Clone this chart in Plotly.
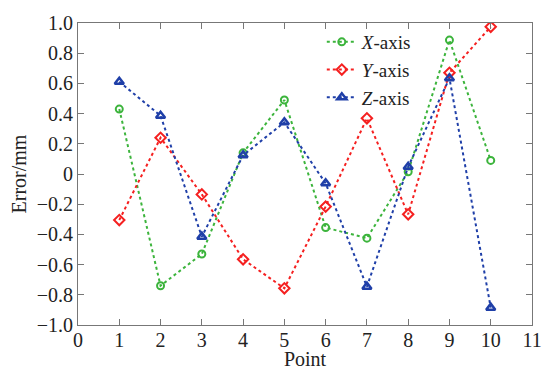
import plotly.graph_objects as go

points = [1, 2, 3, 4, 5, 6, 7, 8, 9, 10]
x_err = [0.43, -0.74, -0.53, 0.14, 0.49, -0.355, -0.425, 0.015, 0.887, 0.09]
y_err = [-0.305, 0.24, -0.135, -0.565, -0.757, -0.216, 0.369, -0.267, 0.67, 0.975]
z_err = [0.611, 0.386, -0.415, 0.124, 0.342, -0.062, -0.746, 0.048, 0.634, -0.885]

y_tickvals = [1.0, 0.8, 0.6, 0.4, 0.2, 0, -0.2, -0.4, -0.6, -0.8, -1.0]
y_ticktext = ["1.0", "0.8", "0.6", "0.4", "0.2", "0", "\u22120.2", "\u22120.4", "\u22120.6", "\u22120.8", "\u22121.0"]
x_tickvals = list(range(0, 12))

FONT = "Liberation Serif"

fig = go.Figure()
fig.add_trace(go.Scatter(x=points, y=x_err, mode="lines+markers", name="<i>X</i>-axis",
                         line=dict(color="#3cb43c", dash="dot", width=2),
                         marker=dict(symbol="circle-open", size=7, color="#3cb43c", line=dict(width=2))))
fig.add_trace(go.Scatter(x=points, y=y_err, mode="lines+markers", name="<i>Y</i>-axis",
                         line=dict(color="#f52020", dash="dot", width=2),
                         marker=dict(symbol="diamond-open", size=8, color="#f52020", line=dict(width=2))))
fig.add_trace(go.Scatter(x=points, y=z_err, mode="lines+markers", name="<i>Z</i>-axis",
                         line=dict(color="#1f3fa8", dash="dot", width=2),
                         marker=dict(symbol="triangle-up-open", size=8, color="#1f3fa8", line=dict(width=2.5))))

fig.update_layout(
    width=542, height=370,
    margin=dict(l=78, r=10, t=23, b=45),
    paper_bgcolor="white", plot_bgcolor="white",
    font=dict(family=FONT, size=20, color="#222"),
    showlegend=True,
    legend=dict(x=0.537, y=1.0, xanchor="left", yanchor="top",
                bgcolor="rgba(0,0,0,0)", borderwidth=0, font=dict(family=FONT, size=19),
                tracegroupgap=0, itemwidth=30),
)
fig.update_xaxes(range=[0, 11], tickvals=x_tickvals, ticks="inside", ticklen=6,
                 showline=True, linecolor="#777", linewidth=1, mirror="ticks",
                 showgrid=False, zeroline=False, tickcolor="#777", automargin=False,
                 tickfont=dict(family=FONT, size=20), ticklabelstandoff=-3,
                 title=dict(text="Point", standoff=0, font=dict(family=FONT, size=20)))
fig.update_yaxes(range=[-1.0, 1.0], tickvals=y_tickvals, ticktext=y_ticktext,
                 ticks="inside", ticklen=6,
                 showline=True, linecolor="#777", linewidth=1, mirror="ticks",
                 showgrid=False, zeroline=False, tickcolor="#777", automargin=False,
                 tickfont=dict(family=FONT, size=20),
                 title=dict(text="Error/mm", standoff=4, font=dict(family=FONT, size=20)))

fig.write_html("out.html", config={"displayModeBar": False},
               post_script="document.body.style.margin='0';")
